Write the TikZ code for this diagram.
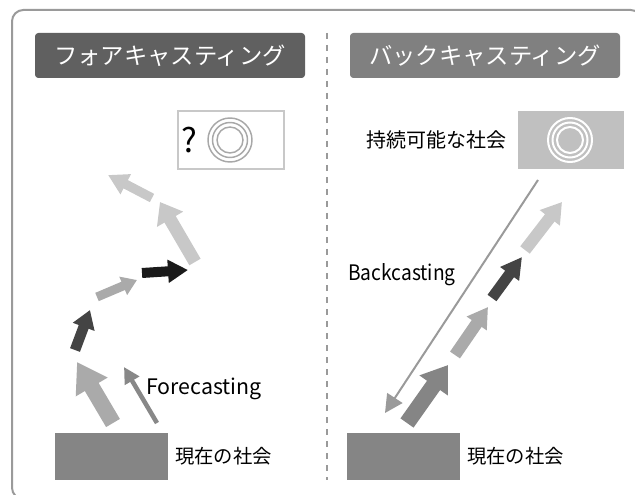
\documentclass[tikz,border=0pt]{standalone}
\usepackage{fontspec}
\setmainfont{Noto Sans CJK JP}
\usetikzlibrary{arrows.meta}
\definecolor{frame}{HTML}{9A9A9A}
\definecolor{titleL}{HTML}{606060}
\definecolor{titleR}{HTML}{808080}
\definecolor{boxgray}{HTML}{858585}
\definecolor{goalgray}{HTML}{C0C0C0}
\definecolor{qborder}{HTML}{C8C8C8}
\definecolor{ringgray}{HTML}{A8A8A8}
\definecolor{aLight}{HTML}{C8C8C8}
\definecolor{aMid}{HTML}{AAAAAA}
\definecolor{aThin}{HTML}{888888}
\definecolor{aDark}{HTML}{444444}
\definecolor{aBlack}{HTML}{1A1A1A}
\definecolor{aBase}{HTML}{858585}
\tikzset{
  blk/.style n args={4}{draw=#1, line width=#2pt, -{Triangle[length=#3pt,width=#4pt]}},
  titlebox/.style={rounded corners=2.5pt, draw=none},
  ttl/.style={text=white, font=\fontsize{17.5pt}{20pt}\selectfont, inner sep=0pt},
  jp/.style={font=\fontsize{14.5pt}{17pt}\selectfont, inner sep=0pt, anchor=west},
  en/.style={font=\fontsize{16pt}{19pt}\selectfont, inner sep=0pt, anchor=west},
}
\begin{document}
\begin{tikzpicture}[x=0.75pt,y=-0.75pt]
\useasboundingbox (0,0) rectangle (635,495);
% outer frame: only the left and top sides fall inside the picture
\draw[frame, line width=1.5pt, rounded corners=8.5pt] (40,499) -- (12,499) -- (12,10) -- (642,10) -- (642,40);
% divider
\draw[frame, line width=1.5pt, dash pattern=on 4.5pt off 4.5pt] (327,33) -- (327,480);
% titles
\fill[titleL, titlebox] (35,33) rectangle (305,78);
\node[ttl] (tl) at (170,56) {フォアキャスティング};
\fill[titleR, titlebox] (350,33) rectangle (620,78);
\node[ttl] (tr) at (485,56) {バックキャスティング};
% left question box
\draw[qborder, line width=1.2pt, fill=white] (178,111) rectangle (284,169);
\node[font=\fontsize{25pt}{28pt}\selectfont, inner sep=0pt] (q) at (189,140) {?};
\foreach \r in {22,17.5,13} \draw[ringgray, line width=1.1pt] (230,140) circle (\r);
% right goal box
\fill[goalgray] (518,111) rectangle (624,169);
\foreach \r in {22,17.5,13} \draw[white, line width=1.5pt] (570,140) circle (\r);
\node[font=\fontsize{15pt}{18pt}\selectfont, inner sep=0pt] (goal) at (436,140) {持続可能な社会};
% bottom boxes
\fill[boxgray] (55,433) rectangle (168,480);
\node[jp] (nowL) at (175,456) {現在の社会};
\fill[boxgray] (347,433) rectangle (460,480);
\node[jp] (nowR) at (467,456) {現在の社会};
% labels
\node[en] (fc) at (146,389) {Forecasting};
\node[en] (bc) at (348,275) {\addfontfeature{FakeStretch=0.9}Backcasting};
% left arrows coordinates
\coordinate (l1a) at (113,423); \coordinate (l1b) at (77,362);
\coordinate (l2a) at (157,423); \coordinate (l2b) at (124,367);
\coordinate (l3a) at (75,350);  \coordinate (l3b) at (90,310);
\coordinate (l4a) at (97,297);  \coordinate (l4b) at (137,280);
\coordinate (l5a) at (142,273); \coordinate (l5b) at (188,270);
\coordinate (l6a) at (195,262); \coordinate (l6b) at (160,202);
\coordinate (l7a) at (152,198); \coordinate (l7b) at (108,175);
\draw[blk={aMid}{12}{21.75}{26.25}] (l1a) -- (l1b);
\draw[blk={aThin}{3.4}{12}{12}] (l2a) -- (l2b);
\draw[blk={aDark}{7.9}{13.5}{16.5}] (l3a) -- (l3b);
\draw[blk={aMid}{6.75}{11.25}{14.25}] (l4a) -- (l4b);
\draw[blk={aBlack}{7.5}{15}{16.5}] (l5a) -- (l5b);
\draw[blk={aLight}{9.75}{15}{21.75}] (l6a) -- (l6b);
\draw[blk={aLight}{7}{15}{16}] (l7a) -- (l7b);
% right arrows
\coordinate (rla) at (538,180); \coordinate (rlb) at (385,413);
\draw[frame, line width=1.5pt, -{Triangle[length=13.5pt,width=13.5pt]}] (rla) -- (rlb);
\coordinate (r1a) at (407,423); \coordinate (r1b) at (448,365);
\coordinate (r2a) at (455,355); \coordinate (r2b) at (488,307);
\coordinate (r3a) at (492,298); \coordinate (r3b) at (522,257);
\coordinate (r4a) at (525,250); \coordinate (r4b) at (562,202);
\draw[blk={aBase}{12}{18.75}{24.75}] (r1a) -- (r1b);
\draw[blk={aMid}{9}{15}{17.25}] (r2a) -- (r2b);
\draw[blk={aDark}{8.25}{15.75}{16.5}] (r3a) -- (r3b);
\draw[blk={aLight}{9}{15}{18}] (r4a) -- (r4b);
\end{tikzpicture}
\end{document}
